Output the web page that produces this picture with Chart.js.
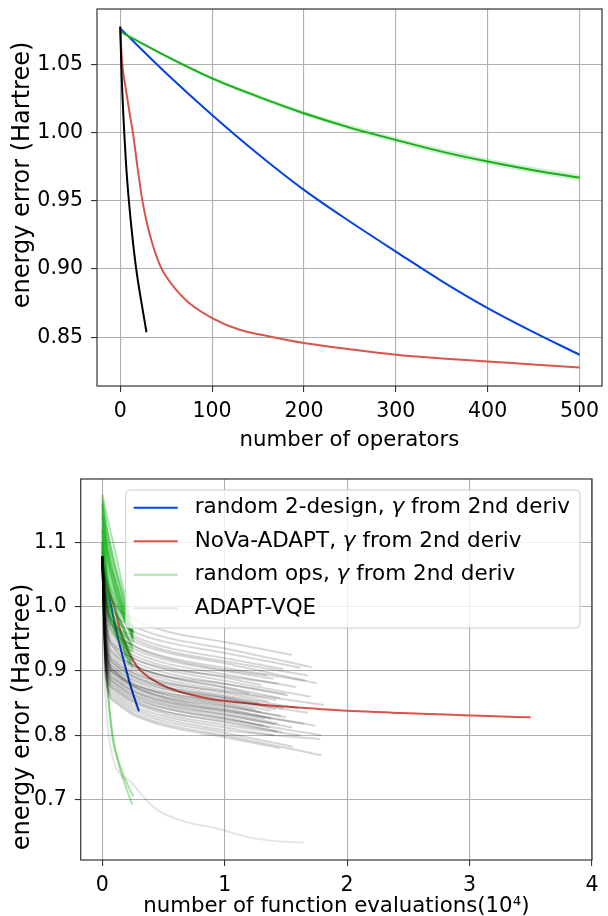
<!DOCTYPE html>
<html>
<head>
<meta charset="utf-8">
<script src="https://cdn.jsdelivr.net/npm/chart.js@4.4.1/dist/chart.umd.min.js"></script>
<style>
  html, body { margin: 0; padding: 0; background: #fff; overflow: hidden; }
  #wrap { position: relative; width: 608px; height: 916px; }
  #topBox { position: absolute; left: 0; top: 0; width: 608px; height: 460px; }
  #bottomBox { position: absolute; left: 0; top: 460px; width: 608px; height: 470px; }
</style>
</head>
<body>
<div id="wrap">
  <div id="topBox"><canvas id="opsChart" width="608" height="460"></canvas></div>
  <div id="bottomBox"><canvas id="evalChart" width="608" height="470"></canvas></div>
</div>
<script>
// ---- top panel: energy error vs number of operators ----
const opsTicks = [0, 100, 200, 300, 400, 500];
const opsYTicks = [0.85, 0.90, 0.95, 1.00, 1.05];

const opsGrid = [0, 50, 100, 150, 200, 250, 300, 350, 400, 450, 500];
const blueErr = [1.0763, 1.0435, 1.0129, 0.9843, 0.958, 0.9348, 0.9128, 0.8912, 0.8714, 0.8538, 0.8372];
const greenErr = [1.074, 1.056, 1.0397, 1.0263, 1.0141, 1.0036, 0.9946, 0.986, 0.9787, 0.9724, 0.967];
const greenHi = [1.074, 1.057, 1.041, 1.0278, 1.0158, 1.0055, 0.9966, 0.9881, 0.9809, 0.9747, 0.9694];
const greenLo = [1.074, 1.055, 1.0384, 1.0248, 1.0124, 1.0017, 0.9926, 0.9839, 0.9765, 0.9701, 0.9646];

const redOps = [0, 1, 2.2, 5.8, 11.2, 13.8, 18.5, 23.9, 27, 31.9, 36.6, 43.8, 50, 60, 76, 100, 130, 160, 200, 250, 300, 350, 400, 450, 500];
const redErr = [1.078, 1.062, 1.05, 1.033, 1.01, 1.0, 0.976, 0.951, 0.94, 0.926, 0.915, 0.902, 0.8945, 0.8855, 0.8745, 0.8641, 0.8555, 0.851, 0.8458, 0.8412, 0.8372, 0.8345, 0.8323, 0.830, 0.8279];

const blackOps = [0, 1.1, 4.35, 6.5, 9.4, 13, 17.4, 23.2, 28.6];
const blackErr = [1.0775, 1.05, 1.0, 0.975, 0.95, 0.925, 0.90, 0.875, 0.8537];

// ---- bottom panel: energy error vs function evaluations (10^4) ----
const evalTicks = [0, 1, 2, 3, 4];
const evalYTicks = [0.7, 0.8, 0.9, 1.0, 1.1];

const blueEvals = [0, 0.03, 0.06, 0.09, 0.12, 0.15, 0.18, 0.21, 0.24, 0.27, 0.30];
const redEvals = [0, 0.007, 0.015, 0.041, 0.078, 0.097, 0.13, 0.167, 0.189, 0.223, 0.256, 0.307, 0.35, 0.42, 0.532, 0.70, 0.91, 1.12, 1.40, 1.75, 2.10, 2.45, 2.80, 3.15, 3.50];

// random ops runs: values at randomGrid, then their last point
const randomGrid = [0, 0.04, 0.1, 0.17];
const randomErr = [
  [1.175, 1.14, 1.09, 1.03], [1.165, 1.12, 1.07, 1.02], [1.15, 1.10, 1.05, 1.005],
  [1.14, 1.08, 1.04, 0.995], [1.13, 1.07, 1.03, 0.99], [1.12, 1.05, 1.015, 0.985],
  [1.11, 1.04, 1.0, 0.965], [1.10, 1.03, 0.995, 0.97], [1.095, 1.02, 0.975, 0.945],
  [1.09, 1.01, 0.975, 0.955], [1.085, 1.0, 0.96, 0.935], [1.08, 0.99, 0.955, 0.94],
  [1.16, 1.11, 1.06, 1.01], [1.145, 1.09, 1.035, 0.99], [1.07, 1.0, 0.97, 0.95],
  [1.125, 1.06, 1.02, 0.985], [1.105, 1.05, 1.01, 0.98], [1.155, 1.085, 1.03, 0.995],
  [1.12, 1.03, 0.98, 0.95], [1.10, 1.01, 0.965, 0.94], [1.17, 1.12, 1.065, 1.015],
  [1.135, 1.075, 1.025, 0.985], [1.115, 1.045, 1.005, 0.97], [1.09, 1.02, 0.98, 0.955],
  [1.16, 1.10, 1.045, 1.0], [1.075, 1.005, 0.965, 0.945], [1.14, 1.085, 1.045, 1.0],
  [1.10, 1.04, 1.0, 0.965]
];
const randomEnd = [
  [0.25, 0.965], [0.24, 0.97], [0.255, 0.955], [0.23, 0.962], [0.25, 0.952], [0.22, 0.965],
  [0.25, 0.93], [0.2, 0.958], [0.24, 0.915], [0.21, 0.935], [0.25, 0.905], [0.19, 0.92],
  [0.245, 0.958], [0.255, 0.95], [0.23, 0.925], [0.25, 0.96], [0.255, 0.962], [0.24, 0.955],
  [0.25, 0.92], [0.22, 0.91], [0.25, 0.95], [0.255, 0.945], [0.25, 0.935], [0.23, 0.93],
  [0.25, 0.96], [0.24, 0.91], [0.255, 0.958], [0.25, 0.94]
];
const randomLong = [
  [[0, 1.10], [0.01, 1.0], [0.02, 0.95], [0.04, 0.88], [0.08, 0.80], [0.12, 0.765], [0.163, 0.736], [0.2, 0.716], [0.245, 0.692]],
  [[0, 1.09], [0.01, 0.99], [0.025, 0.93], [0.045, 0.87], [0.09, 0.795], [0.13, 0.762], [0.17, 0.74], [0.21, 0.722], [0.253, 0.705]]
];

// ADAPT-VQE runs: values at adaptGrid, then their last point
const adaptGrid = [0, 0.03, 0.1, 0.25, 0.5, 1.0];
const adaptErr = [
  [1.078, 1.04, 1.005, 0.982, 0.963, 0.945], [1.078, 1.028, 0.99, 0.97, 0.953, 0.935],
  [1.078, 1.02, 0.983, 0.962, 0.946, 0.928], [1.078, 1.012, 0.975, 0.955, 0.938, 0.92],
  [1.078, 1.0, 0.967, 0.947, 0.93, 0.912], [1.078, 0.995, 0.96, 0.94, 0.923, 0.905],
  [1.078, 0.99, 0.955, 0.935, 0.918, 0.90], [1.078, 0.985, 0.95, 0.93, 0.913, 0.895],
  [1.078, 0.98, 0.945, 0.925, 0.908, 0.89], [1.078, 0.975, 0.94, 0.92, 0.903, 0.885],
  [1.078, 0.97, 0.935, 0.915, 0.898, 0.88], [1.078, 0.965, 0.93, 0.91, 0.893, 0.875],
  [1.078, 0.96, 0.925, 0.905, 0.888, 0.87], [1.078, 0.956, 0.921, 0.901, 0.884, 0.866],
  [1.078, 0.952, 0.917, 0.897, 0.88, 0.862], [1.078, 0.948, 0.913, 0.893, 0.876, 0.858],
  [1.078, 0.945, 0.91, 0.89, 0.873, 0.855], [1.078, 0.94, 0.905, 0.885, 0.868, 0.85],
  [1.078, 0.936, 0.901, 0.881, 0.864, 0.846], [1.078, 0.932, 0.897, 0.877, 0.86, 0.842],
  [1.078, 0.928, 0.893, 0.873, 0.856, 0.838], [1.078, 0.925, 0.89, 0.87, 0.853, 0.835],
  [1.078, 0.922, 0.887, 0.867, 0.85, 0.832], [1.078, 0.918, 0.883, 0.863, 0.846, 0.828],
  [1.078, 0.915, 0.88, 0.86, 0.843, 0.825], [1.078, 0.91, 0.875, 0.855, 0.838, 0.82],
  [1.078, 0.906, 0.871, 0.851, 0.834, 0.816], [1.078, 0.902, 0.867, 0.847, 0.83, 0.812],
  [1.078, 0.898, 0.863, 0.843, 0.826, 0.808], [1.078, 0.894, 0.859, 0.839, 0.822, 0.804],
  [1.078, 0.89, 0.855, 0.835, 0.818, 0.80], [1.078, 0.887, 0.852, 0.832, 0.815, 0.797],
  [1.078, 0.975, 0.935, 0.91, 0.892, 0.874], [1.078, 1.005, 0.965, 0.94, 0.921, 0.902],
  [1.078, 0.945, 0.91, 0.892, 0.876, 0.86], [1.078, 0.935, 0.9, 0.877, 0.858, 0.84],
  [1.078, 0.95, 0.915, 0.897, 0.882, 0.868], [1.078, 0.93, 0.897, 0.879, 0.866, 0.852],
  [1.078, 0.928, 0.895, 0.876, 0.86, 0.845], [1.078, 0.92, 0.887, 0.869, 0.853, 0.838],
  [1.078, 0.915, 0.882, 0.864, 0.848, 0.832], [1.078, 0.91, 0.877, 0.858, 0.842, 0.826],
  [1.078, 0.96, 0.926, 0.908, 0.893, 0.88], [1.078, 0.94, 0.905, 0.887, 0.872, 0.858],
  [1.078, 0.935, 0.9, 0.88, 0.864, 0.848], [1.078, 0.905, 0.872, 0.853, 0.837, 0.822],
  [1.078, 0.975, 0.94, 0.92, 0.905, 0.892], [1.078, 1.01, 0.972, 0.951, 0.933, 0.915]
];
const adaptEnd = [
  [1.55, 0.925], [1.71, 0.906], [1.62, 0.905], [1.48, 0.903], [1.75, 0.881], [1.66, 0.885],
  [1.40, 0.888], [1.58, 0.875], [1.30, 0.878], [1.70, 0.86], [1.52, 0.862], [1.45, 0.858],
  [1.81, 0.847], [1.36, 0.852], [1.60, 0.842], [1.42, 0.84], [1.68, 0.835], [1.25, 0.84],
  [1.50, 0.828], [1.38, 0.826], [1.74, 0.815], [1.44, 0.818], [1.55, 0.812], [1.32, 0.815],
  [1.79, 0.80], [1.47, 0.805], [1.62, 0.80], [1.40, 0.80], [1.78, 0.794], [1.56, 0.782],
  [1.79, 0.769], [1.45, 0.78], [1.20, 0.865], [1.35, 0.893], [1.28, 0.85], [1.65, 0.818],
  [1.42, 0.855], [1.38, 0.838], [1.46, 0.83], [1.33, 0.826], [1.41, 0.817], [1.37, 0.812],
  [1.50, 0.864], [1.48, 0.842], [1.30, 0.836], [1.43, 0.806], [1.44, 0.88], [1.68, 0.893]
];
const adaptOutlier = [[0, 1.078], [0.01, 0.95], [0.03, 0.85], [0.06, 0.79], [0.1, 0.755], [0.17, 0.735], [0.22, 0.73], [0.31, 0.71], [0.45, 0.684], [0.67, 0.666], [0.94, 0.655], [1.18, 0.642], [1.43, 0.635], [1.645, 0.633]];

const BLUE = '#0343df';
const RED = '#d9544d';
const GREEN = '#15b01a';
const FONT = 'DejaVu Sans';

Chart.defaults.font.family = FONT;
Chart.defaults.color = '#000';

const pairs = (xs, ys) => xs.map((x, i) => ({ x: x, y: ys[i] }));

// box around the plot area, like matplotlib spines
const frame = {
  id: 'frame',
  afterDatasetsDraw(chart) {
    const { ctx, chartArea: a } = chart;
    ctx.save();
    ctx.strokeStyle = '#333';
    ctx.lineWidth = 1.2;
    ctx.strokeRect(a.left, a.top, a.right - a.left, a.bottom - a.top);
    ctx.restore();
  }
};

// rotated y title at its own position
const yTitle = {
  id: 'yTitle',
  afterDraw(chart, args, opts) {
    const ctx = chart.ctx;
    ctx.save();
    ctx.translate(opts.x, opts.y);
    ctx.rotate(-Math.PI / 2);
    ctx.font = opts.size + 'px "' + FONT + '"';
    ctx.fillStyle = '#000';
    ctx.textAlign = 'center';
    ctx.textBaseline = 'middle';
    ctx.fillText(opts.text, 0, 0);
    ctx.restore();
  }
};

// legend box drawn inside the plot, with italic gamma
const boxLegend = {
  id: 'boxLegend',
  afterDraw(chart, args, opts) {
    const items = chart.data.datasets.filter(d => d.legendEntry);
    if (!items.length) return;
    const ctx = chart.ctx, a = chart.chartArea;
    const normal = opts.size + 'px "' + FONT + '"';
    const italic = 'italic ' + normal;
    ctx.save();
    const parts = items.map(d => d.label.split('γ'));
    const widthOf = p => {
      let w = 0;
      p.forEach((s, i) => {
        ctx.font = normal; w += ctx.measureText(s).width;
        if (i < p.length - 1) { ctx.font = italic; w += ctx.measureText('γ').width; }
      });
      return w;
    };
    const textW = Math.max(...parts.map(widthOf));
    const pad = 8, handle = 44, gap = 17, rowH = 33.5;
    const w = pad + handle + gap + textW + 10;
    const h = rowH * items.length + 4;
    const right = a.right - 12, top = a.top + 11;
    const left = right - w;
    ctx.beginPath();
    if (ctx.roundRect) ctx.roundRect(left, top, w, h, 4); else ctx.rect(left, top, w, h);
    ctx.fillStyle = 'rgba(255,255,255,0.8)';
    ctx.fill();
    ctx.strokeStyle = '#cccccc';
    ctx.lineWidth = 1;
    ctx.stroke();
    items.forEach((d, i) => {
      const cy = top + 17.7 + i * rowH;
      ctx.strokeStyle = d.legendColor || d.borderColor;
      ctx.lineWidth = 2;
      ctx.beginPath();
      ctx.moveTo(left + pad, cy);
      ctx.lineTo(left + pad + handle, cy);
      ctx.stroke();
      let x = left + pad + handle + gap;
      ctx.fillStyle = '#000';
      ctx.textAlign = 'left';
      ctx.textBaseline = 'middle';
      parts[i].forEach((s, k) => {
        ctx.font = normal;
        ctx.fillText(s, x, cy);
        x += ctx.measureText(s).width;
        if (k < parts[i].length - 1) {
          ctx.font = italic;
          ctx.fillText('γ', x, cy);
          x += ctx.measureText('γ').width;
        }
      });
    });
    ctx.restore();
  }
};

function axis(opts) {
  return {
    type: 'linear',
    min: opts.min,
    max: opts.max,
    afterBuildTicks: s => { s.ticks = opts.ticks.map(v => ({ value: v })); },
    afterFit: opts.fit,
    grid: { color: '#b0b0b0', lineWidth: 1.1, tickColor: '#333', tickLength: 6 },
    border: { display: false },
    ticks: {
      color: '#000',
      font: { family: FONT, size: 20.5 },
      padding: opts.padding,
      maxRotation: 0,
      autoSkip: false,
      callback: opts.format
    },
    title: opts.title || { display: false }
  };
}

const baseOptions = {
  responsive: false,
  animation: false,
  events: [],
  elements: {
    point: { radius: 0 },
    line: { borderWidth: 2, cubicInterpolationMode: 'monotone', fill: false }
  }
};

// ---- top chart ----
new Chart(document.getElementById('opsChart').getContext('2d'), {
  type: 'line',
  data: {
    datasets: [
      { label: 'band', data: pairs(opsGrid, greenHi), borderWidth: 0, borderColor: 'rgba(0,0,0,0)',
        backgroundColor: 'rgba(21,176,26,0.2)', fill: '+1', order: 6 },
      { label: 'band low', data: pairs(opsGrid, greenLo), borderWidth: 0, borderColor: 'rgba(0,0,0,0)', order: 6 },
      { label: 'random 2-design', data: pairs(opsGrid, blueErr), borderColor: BLUE, order: 5 },
      { label: 'NoVa-ADAPT', data: pairs(redOps, redErr), borderColor: RED, order: 4 },
      { label: 'random ops', data: pairs(opsGrid, greenErr), borderColor: GREEN, order: 3 },
      { label: 'ADAPT-VQE', data: pairs(blackOps, blackErr), borderColor: '#000', order: 1 }
    ]
  },
  options: Object.assign({}, baseOptions, {
    layout: { padding: { top: 9, right: 6, left: 0, bottom: 0 } },
    plugins: {
      legend: { display: false },
      tooltip: { enabled: false },
      yTitle: { text: 'energy error (Hartree)', x: 23, y: 175, size: 24 }
    },
    scales: {
      x: axis({
        min: -25.3, max: 524.5, ticks: opsTicks, padding: 7,
        fit: s => { s.height = 74; s.paddingLeft = 0; s.paddingRight = 0; },
        format: v => String(v),
        title: { display: true, text: 'number of operators', color: '#000',
                 font: { family: FONT, size: 21.3 }, padding: { top: 0, bottom: 7 } }
      }),
      y: axis({
        min: 0.8143, max: 1.0905, ticks: opsYTicks, padding: 8,
        fit: s => { s.width = 97; s.paddingTop = 0; s.paddingBottom = 0; },
        format: v => v.toFixed(2)
      })
    }
  }),
  plugins: [frame, yTitle]
});

// ---- bottom chart ----
const bottomSets = [
  { label: 'random 2-design, γ from 2nd deriv', data: pairs(blueEvals, blueErr), borderColor: BLUE, order: 4, legendEntry: true },
  { label: 'NoVa-ADAPT, γ from 2nd deriv', data: pairs(redEvals, redErr), borderColor: RED, order: 3, legendEntry: true }
];
randomErr.forEach((row, i) => {
  const pts = pairs(randomGrid, row);
  pts.push({ x: randomEnd[i][0], y: randomEnd[i][1] });
  bottomSets.push({ label: i === 0 ? 'random ops, γ from 2nd deriv' : '', data: pts,
    borderColor: 'rgba(21,176,26,0.35)', order: 2, legendEntry: i === 0 });
});
randomLong.forEach(run => {
  bottomSets.push({ label: '', data: run.map(p => ({ x: p[0], y: p[1] })),
    borderColor: 'rgba(21,176,26,0.35)', order: 2 });
});
adaptErr.forEach((row, i) => {
  const pts = pairs(adaptGrid, row);
  pts.push({ x: adaptEnd[i][0], y: adaptEnd[i][1] });
  bottomSets.push({ label: i === 0 ? 'ADAPT-VQE' : '', data: pts,
    borderColor: 'rgba(0,0,0,0.16)', legendColor: 'rgba(0,0,0,0.1)', order: 1, legendEntry: i === 0 });
});
bottomSets.push({ label: '', data: adaptOutlier.map(p => ({ x: p[0], y: p[1] })),
  borderColor: 'rgba(0,0,0,0.1)', order: 1 });

new Chart(document.getElementById('evalChart').getContext('2d'), {
  type: 'line',
  data: { datasets: bottomSets },
  options: Object.assign({}, baseOptions, {
    layout: { padding: { top: 19, right: 16, left: 0, bottom: 0 } },
    plugins: {
      legend: { display: false },
      tooltip: { enabled: false },
      yTitle: { text: 'energy error (Hartree)', x: 23, y: 257, size: 24 },
      boxLegend: { size: 21.5 }
    },
    scales: {
      x: axis({
        min: -0.176, max: 4, ticks: evalTicks, padding: 7,
        fit: s => { s.height = 70; s.paddingLeft = 0; s.paddingRight = 0; },
        format: v => String(v),
        title: { display: true, text: 'number of function evaluations(10⁴)', color: '#000',
                 font: { family: FONT, size: 21.3 }, padding: { top: 0, bottom: 11 } }
      }),
      y: axis({
        min: 0.606, max: 1.1986, ticks: evalYTicks, padding: 8,
        fit: s => { s.width = 80.7; s.paddingTop = 0; s.paddingBottom = 0; },
        format: v => v.toFixed(1)
      })
    }
  }),
  plugins: [frame, yTitle, boxLegend]
});
</script>
</body>
</html>
